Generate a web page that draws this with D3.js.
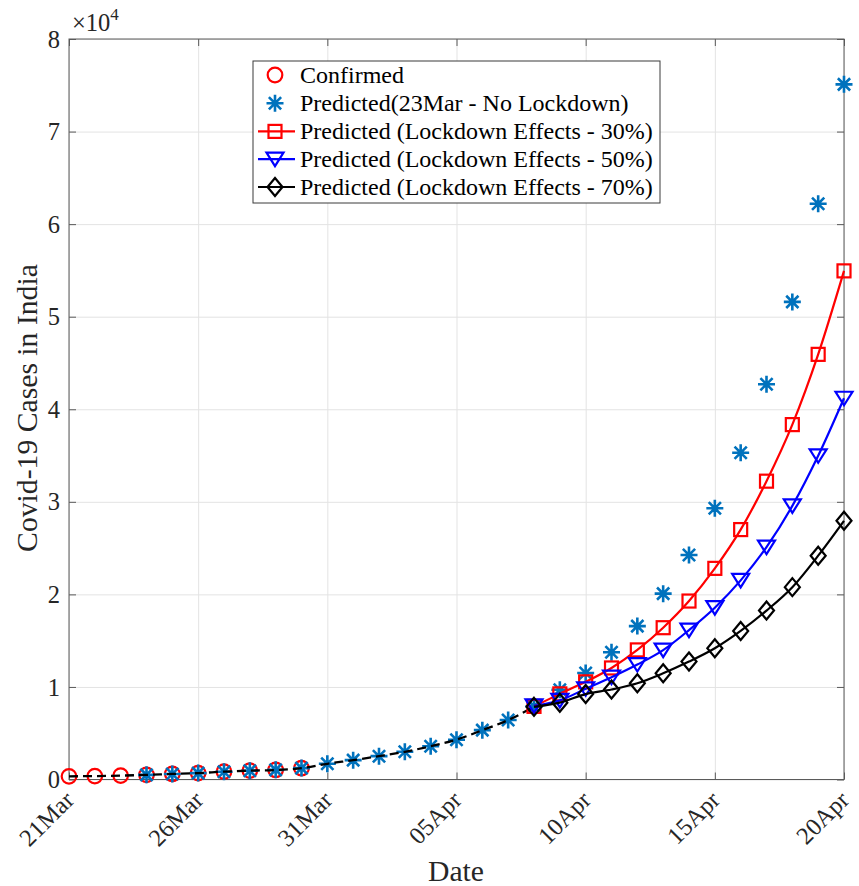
<!DOCTYPE html>
<html><head><meta charset="utf-8">
<script src="https://cdn.jsdelivr.net/npm/d3@7"></script>
<style>
body{margin:0;background:#fff}
svg text{font-family:"Liberation Serif","Times New Roman",serif}
</style></head>
<body><svg id="chart" width="859" height="886"></svg>
<script>
// ---------- data ----------
const confirmedDates = ["2020-03-21","2020-03-22","2020-03-23","2020-03-24","2020-03-25","2020-03-26","2020-03-27","2020-03-28","2020-03-29","2020-03-30"];
const confirmed = [340, 370, 420, 500, 600, 690, 850, 960, 1030, 1220];

const noLockdownDates = ["2020-03-24","2020-03-25","2020-03-26","2020-03-27","2020-03-28","2020-03-29","2020-03-30","2020-03-31","2020-04-01","2020-04-02","2020-04-03","2020-04-04","2020-04-05","2020-04-06","2020-04-07","2020-04-08","2020-04-09","2020-04-10","2020-04-11","2020-04-12","2020-04-13","2020-04-14","2020-04-15","2020-04-16","2020-04-17","2020-04-18","2020-04-19","2020-04-20"];
const noLockdown = [500, 600, 690, 840, 950, 1040, 1230, 1700, 2090, 2520, 2990, 3600, 4300, 5330, 6420, 7900, 9700, 11500, 13750, 16570, 20080, 24250, 29300, 35300, 42700, 51600, 62200, 75100];

const trendDates = ["2020-03-21","2020-03-22","2020-03-23","2020-03-24","2020-03-25","2020-03-26","2020-03-27","2020-03-28","2020-03-29","2020-03-30","2020-03-31","2020-04-01","2020-04-02","2020-04-03","2020-04-04","2020-04-05","2020-04-06","2020-04-07","2020-04-08"];
const trend = [340, 370, 420, 500, 600, 690, 850, 960, 1030, 1220, 1700, 2090, 2520, 2990, 3600, 4300, 5330, 6420, 7850];

const lockdownDates = ["2020-04-08","2020-04-09","2020-04-10","2020-04-11","2020-04-12","2020-04-13","2020-04-14","2020-04-15","2020-04-16","2020-04-17","2020-04-18","2020-04-19","2020-04-20"];
const lock30 = [7900, 9250, 10550, 12050, 14000, 16400, 19280, 22810, 27000, 32230, 38340, 45930, 54950];
const lock50 = [7950, 8550, 9800, 11050, 12420, 13980, 16140, 18560, 21510, 25100, 29560, 34970, 41190];
const lock70 = [7850, 8300, 9230, 9720, 10400, 11480, 12740, 14180, 16050, 18250, 20780, 24180, 27950];

const xTickDates = ["2020-03-21","2020-03-26","2020-03-31","2020-04-05","2020-04-10","2020-04-15","2020-04-20"];
const yTicks = [0, 10000, 20000, 30000, 40000, 50000, 60000, 70000, 80000];
const legendLabels = ["Confirmed","Predicted(23Mar - No Lockdown)","Predicted (Lockdown Effects - 30%)","Predicted (Lockdown Effects - 50%)","Predicted (Lockdown Effects - 70%)"];
const xLabel = "Date";
const yLabel = "Covid-19 Cases in India";

// ---------- setup ----------
const parse = d3.utcParse("%Y-%m-%d");
const L = 69, R = 844, T = 39, B = 779.5;
const TICK_FS = 24.5;
const svg = d3.select("#chart");
const x = d3.scaleUtc().domain([parse(xTickDates[0]), parse(xTickDates[xTickDates.length-1])]).range([L, R]);
const y = d3.scaleLinear().domain([0, 80000]).range([B, T]);
const axisColor = "#5a5a5a", textColor = "#262626";
const C_RED = "#ff0000", C_BLUE = "#0000ff", C_BLACK = "#000000", C_STAR = "#0072bd";

// grid
svg.append("g").attr("transform", `translate(0,${B})`)
  .call(d3.axisBottom(x).tickValues(xTickDates.map(parse)).tickSize(-(B-T)).tickFormat(""))
  .call(g => g.select(".domain").remove())
  .call(g => g.selectAll("line").attr("stroke", "#e3e3e3").attr("stroke-width", 1));
svg.append("g").attr("transform", `translate(${L},0)`)
  .call(d3.axisLeft(y).tickValues(yTicks).tickSize(-(R-L)).tickFormat(""))
  .call(g => g.select(".domain").remove())
  .call(g => g.selectAll("line").attr("stroke", "#e3e3e3").attr("stroke-width", 1));

// axes
const fmt = d3.utcFormat("%d%b");
const gx = svg.append("g").attr("transform", `translate(0,${B})`)
  .call(d3.axisBottom(x).tickValues(xTickDates.map(parse)).tickSizeInner(-7).tickSizeOuter(0).tickFormat(fmt));
gx.select(".domain").remove();
gx.selectAll("line").attr("stroke", axisColor);
gx.selectAll("text").attr("y", 0).attr("dy", 0).attr("text-anchor", "end")
  .attr("transform", "translate(6,22) rotate(-45)")
  .attr("font-size", TICK_FS).attr("fill", textColor).attr("font-family", null);

const gy = svg.append("g").attr("transform", `translate(${L},0)`)
  .call(d3.axisLeft(y).tickValues(yTicks).tickSizeInner(-7).tickSizeOuter(0).tickPadding(9).tickFormat(d => d / 1e4));
gy.select(".domain").remove();
gy.selectAll("line").attr("stroke", axisColor);
gy.selectAll("text").attr("font-size", TICK_FS).attr("fill", textColor).attr("font-family", null).attr("dy", "0.33em");

const gt = svg.append("g").attr("transform", `translate(0,${T})`)
  .call(d3.axisTop(x).tickValues(xTickDates.map(parse)).tickSizeInner(-7).tickSizeOuter(0).tickFormat(""));
gt.select(".domain").remove(); gt.selectAll("line").attr("stroke", axisColor);
const gr = svg.append("g").attr("transform", `translate(${R},0)`)
  .call(d3.axisRight(y).tickValues(yTicks).tickSizeInner(-7).tickSizeOuter(0).tickFormat(""));
gr.select(".domain").remove(); gr.selectAll("line").attr("stroke", axisColor);

svg.append("rect").attr("x", L).attr("y", T).attr("width", R-L).attr("height", B-T)
  .attr("fill", "none").attr("stroke", axisColor).attr("stroke-width", 1);

// exponent
const ex = svg.append("text").attr("x", 72).attr("y", 31).attr("fill", textColor).attr("font-size", TICK_FS);
ex.append("tspan").text("\u00d710");
ex.append("tspan").attr("font-size", 17).attr("dy", -11).text("4");

// labels
function fit(sel, w) {
  const len = sel.node().getComputedTextLength();
  const fs = parseFloat(sel.attr("font-size"));
  sel.attr("font-size", fs * w / len);
}
const xl = svg.append("text").attr("x", 456).attr("y", 881).attr("text-anchor", "middle")
  .attr("fill", textColor).attr("font-size", 30).text(xLabel);
fit(xl, 56);
const yl = svg.append("text").attr("transform", "translate(37,408) rotate(-90)").attr("text-anchor", "middle")
  .attr("fill", textColor).attr("font-size", 30).text(yLabel);
fit(yl, 288);

// ---------- markers ----------
function star(g, cx, cy, s) {
  const d = s * 0.72;
  g.append("path").attr("d",
    `M${cx-s},${cy}L${cx+s},${cy}M${cx},${cy-s}L${cx},${cy+s}M${cx-d},${cy-d}L${cx+d},${cy+d}M${cx-d},${cy+d}L${cx+d},${cy-d}`)
    .attr("stroke", C_STAR).attr("stroke-width", 2.6).attr("fill", "none");
}
function circle(g, cx, cy) {
  g.append("circle").attr("cx", cx).attr("cy", cy).attr("r", 7.3)
    .attr("fill", "none").attr("stroke", C_RED).attr("stroke-width", 2.2);
}
function square(g, cx, cy) {
  g.append("rect").attr("x", cx-6.5).attr("y", cy-6.5).attr("width", 13).attr("height", 13)
    .attr("fill", "none").attr("stroke", C_RED).attr("stroke-width", 2.2);
}
function tri(g, cx, cy) {
  g.append("path").attr("d", `M${cx-8.5},${cy-6.5}L${cx+8.5},${cy-6.5}L${cx},${cy+7}Z`)
    .attr("fill", "none").attr("stroke", C_BLUE).attr("stroke-width", 2.2).attr("stroke-linejoin", "miter");
}
function diamond(g, cx, cy) {
  g.append("path").attr("d", `M${cx},${cy-9}L${cx+7.5},${cy}L${cx},${cy+9}L${cx-7.5},${cy}Z`)
    .attr("fill", "none").attr("stroke", C_BLACK).attr("stroke-width", 2.2);
}

const plot = svg.append("g");
const line = d3.line().x(d => x(d[0])).y(d => y(d[1])).curve(d3.curveMonotoneX);
const zipD = (dates, vals) => dates.map((d, i) => [parse(d), vals[i]]);

// confirmed circles
const gc = plot.append("g");
zipD(confirmedDates, confirmed).forEach(p => circle(gc, x(p[0]), y(p[1])));
// no-lockdown stars
const gs = plot.append("g");
zipD(noLockdownDates, noLockdown).forEach(p => star(gs, x(p[0]), y(p[1]), 8.5));
// dashed trend
plot.append("path").datum(zipD(trendDates, trend)).attr("d", line)
  .attr("fill", "none").attr("stroke", C_BLACK).attr("stroke-width", 2.3).attr("stroke-dasharray", "9,5");

// lockdown series
const series = [
  {vals: lock30, color: C_RED, mk: square},
  {vals: lock50, color: C_BLUE, mk: tri},
  {vals: lock70, color: C_BLACK, mk: diamond}
];
series.forEach(s => {
  const pts = zipD(lockdownDates, s.vals);
  const g = plot.append("g");
  g.append("path").datum(pts).attr("d", line).attr("fill", "none").attr("stroke", s.color).attr("stroke-width", 2.2);
  pts.forEach(p => s.mk(g, x(p[0]), y(p[1])));
});

// ---------- legend ----------
const lg = svg.append("g");
lg.append("rect").attr("x", 253).attr("y", 61).attr("width", 407).attr("height", 142)
  .attr("fill", "#fff").attr("stroke", "#3a3a3a").attr("stroke-width", 1);
const rowY = [75, 103.2, 131.4, 159.2, 187];
const texts = legendLabels.map((t, i) => lg.append("text").attr("x", 300).attr("y", rowY[i]).attr("dy", "0.33em")
  .attr("font-size", 23).attr("fill", "#000").text(t));
const longest = texts[2];
const len = longest.node().getComputedTextLength();
texts.forEach(t => t.attr("font-size", 23 * 353 / len));
circle(lg, 275, rowY[0]);
star(lg, 275, rowY[1], 8.5);
const legendMk = [square, tri, diamond], legendCol = [C_RED, C_BLUE, C_BLACK];
[2, 3, 4].forEach((r, k) => {
  lg.append("line").attr("x1", 258).attr("x2", 295).attr("y1", rowY[r]).attr("y2", rowY[r])
    .attr("stroke", legendCol[k]).attr("stroke-width", 2.2);
  legendMk[k](lg, 275, rowY[r]);
});
</script></body></html>
